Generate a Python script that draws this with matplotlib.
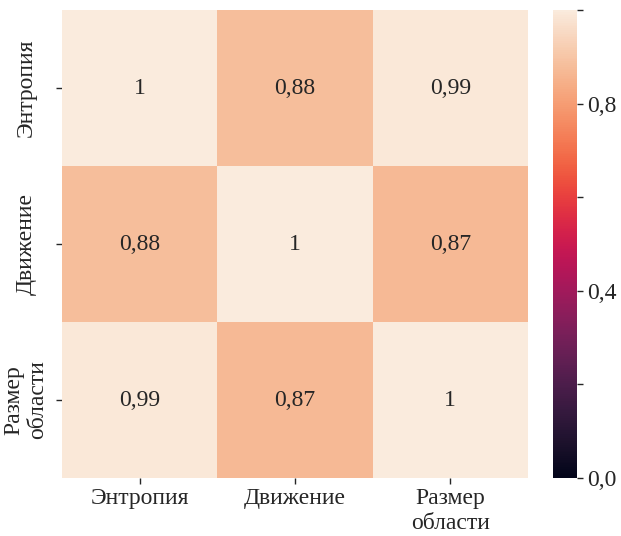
import numpy as np
import matplotlib

matplotlib.use("Agg")
import matplotlib.pyplot as plt
from matplotlib import font_manager
import seaborn as sns

labels = ["Энтропия", "Движение", "Размер\nобласти"]
corr = np.array([
    [1.00, 0.88, 0.99],
    [0.88, 1.00, 0.87],
    [0.99, 0.87, 1.00],
])
cbar_ticks = [0.0, 0.2, 0.4, 0.6, 0.8, 1.0]
cbar_labels = ["0,0", "", "0,4", "", "0,8", ""]

sns.set_theme(style="white")
installed = {f.name for f in font_manager.fontManager.ttflist}
wanted = ["Liberation Serif", "Times New Roman", "Nimbus Roman", "TeX Gyre Termes",
          "STIXGeneral", "DejaVu Serif"]
plt.rcParams["font.family"] = [f for f in wanted if f in installed] or ["serif"]
plt.rcParams["font.size"] = 16

annot = np.array([[f"{v:.2g}".replace(".", ",") for v in row] for row in corr])

fig = plt.figure(figsize=(6.21, 5.36), dpi=100)
ax = fig.add_axes([62 / 621, 58 / 536, 466 / 621, 468 / 536])
cax = fig.add_axes([553 / 621, 58 / 536, 24 / 621, 468 / 536])

sns.heatmap(corr, ax=ax, cbar_ax=cax, cmap="rocket", vmin=0, vmax=1,
            annot=annot, fmt="", annot_kws={"fontsize": 17, "color": "#262626"},
            xticklabels=labels, yticklabels=labels)

ax.tick_params(axis="both", which="major", length=4, width=1, color="#262626",
               labelsize=17, labelcolor="#262626", bottom=True, left=True)
ax.set_yticklabels(labels, rotation=90, va="center", ha="center", multialignment="center")
ax.tick_params(axis="y", pad=22)
ax.set_xticklabels(labels, rotation=0, multialignment="center")

cax.set_yticks(cbar_ticks)
cax.set_yticklabels(cbar_labels)
cax.tick_params(axis="y", length=4, width=1, color="#262626", labelsize=17,
                labelcolor="#262626", right=True)

fig.savefig("out.png", dpi=100)
